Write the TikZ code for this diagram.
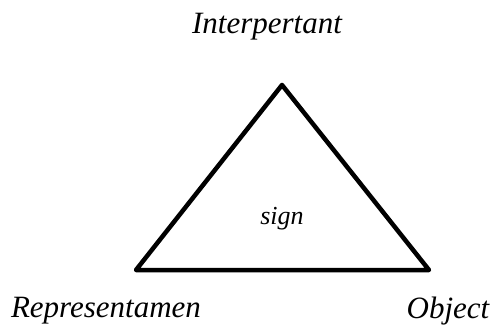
\documentclass[tikz,border=0pt]{standalone}
\usepackage{fontspec}
\setmainfont{Liberation Serif}
\usetikzlibrary{positioning}
\tikzset{
  term/.style={font=\fontsize{31}{35}\selectfont\itshape,inner sep=0pt},
  core/.style={font=\fontsize{26}{30}\selectfont\itshape,inner sep=0pt},
}

\begin{document}
\begin{tikzpicture}[x=1pt,y=-1pt,line width=4.5pt,line join=round]
  \useasboundingbox (0,0) rectangle (492,331);
  \coordinate (top) at (282,85);
  \coordinate (left) at (136,270);
  \coordinate (right) at (429,270);
  \draw (top) -- (right) -- (left) -- cycle;
  \node[term] (I) at (267,27) {Interpertant};
  \node[core] (S) at (282,219) {sign};
  \node[term] (R) at (106,311) {Representamen};
  \node[term] (O) at (448,311) {Object};
\end{tikzpicture}
\end{document}
